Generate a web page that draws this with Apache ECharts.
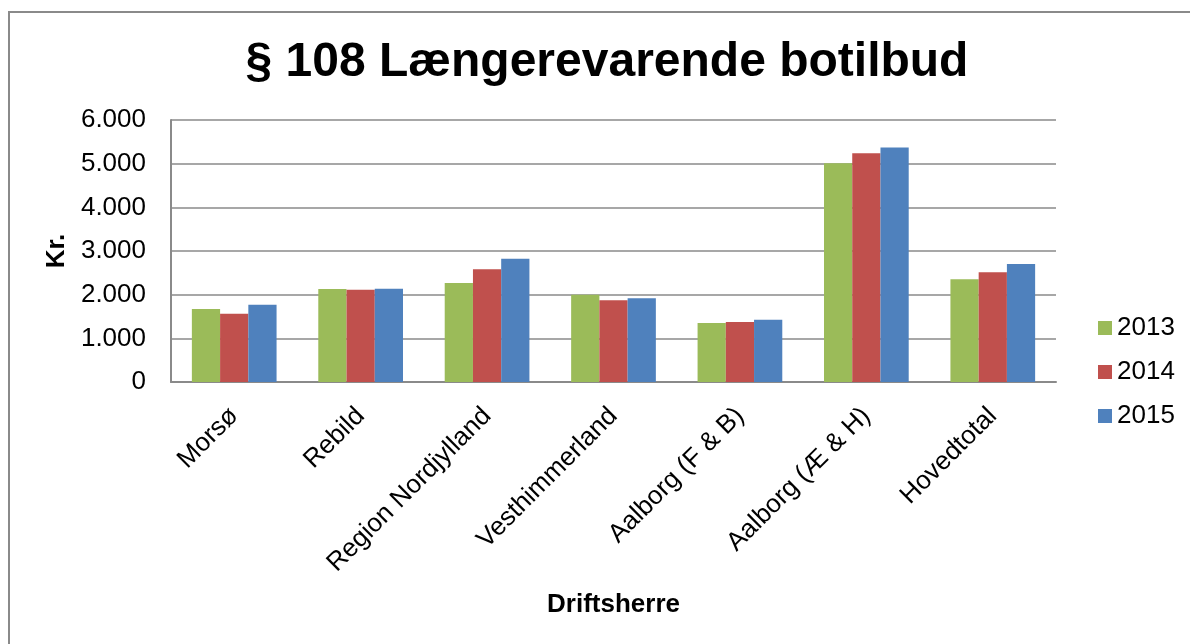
<!DOCTYPE html>
<html>
<head>
<meta charset="utf-8">
<script src="https://cdn.jsdelivr.net/npm/echarts@6/dist/echarts.min.js"></script>
<style>
  html, body { margin: 0; padding: 0; background: #fff; }
  #chart { width: 1190px; height: 644px; }
</style>
</head>
<body>
<div id="chart"></div>
<script>
// data
var categories = ['Morsø', 'Rebild', 'Region Nordjylland', 'Vesthimmerland', 'Aalborg (F & B)', 'Aalborg (Æ & H)', 'Hovedtotal'];
var v2013 = [1670, 2130, 2265, 2000, 1350, 5010, 2355];
var v2014 = [1565, 2110, 2580, 1870, 1375, 5240, 2515];
var v2015 = [1770, 2135, 2820, 1920, 1425, 5370, 2700];
var yTicks = [0, 1000, 2000, 3000, 4000, 5000, 6000];

var font = 'Liberation Sans, Arial, sans-serif';

function fmt(v) {
    return String(v).replace(/\B(?=(\d{3})+(?!\d))/g, '.');
}

var myChart = echarts.init(document.getElementById('chart'));

var option = {
    animation: false,
    textStyle: { fontFamily: font, color: '#000' },
    title: {
        text: '§ 108 Længerevarende botilbud',
        left: 602,
        top: 34,
        textAlign: 'center',
        textStyle: { fontFamily: font, fontSize: 48, fontWeight: 'bold', color: '#000' }
    },
    graphic: [{
        type: 'rect',
        shape: { x: 9, y: 12, width: 1220, height: 700 },
        style: { fill: null, stroke: '#8a8a8a', lineWidth: 2 },
        silent: true
    }],
    legend: {
        orient: 'vertical',
        left: 1093,
        top: 310,
        itemWidth: 14,
        itemHeight: 14,
        itemGap: 18,
        icon: 'rect',
        textStyle: { fontFamily: font, fontSize: 26, color: '#000' },
        data: ['2013', '2014', '2015']
    },
    grid: { left: 171, right: 134, top: 120, bottom: 262 },
    xAxis: {
        type: 'category',
        data: categories,
        name: 'Driftsherre',
        nameLocation: 'middle',
        nameGap: 210,
        nameTextStyle: { fontFamily: font, fontSize: 26, fontWeight: 'bold', color: '#000' },
        axisLine: { lineStyle: { color: '#8a8a8a', width: 2 } },
        axisTick: { show: false },
        axisLabel: { rotate: 45, fontSize: 26, margin: 30, color: '#000', fontFamily: font }
    },
    yAxis: {
        type: 'value',
        min: yTicks[0],
        max: yTicks[yTicks.length - 1],
        interval: 1000,
        name: 'Kr.',
        nameLocation: 'middle',
        nameRotate: 90,
        nameGap: 97,
        nameTextStyle: { fontFamily: font, fontSize: 26, fontWeight: 'bold', color: '#000' },
        axisLine: { show: true, lineStyle: { color: '#8a8a8a', width: 2 } },
        axisTick: { show: false },
        axisLabel: { fontSize: 26, margin: 25, color: '#000', fontFamily: font, formatter: fmt },
        splitLine: { lineStyle: { color: '#8a8a8a', width: 1.5 } }
    },
    series: [
        { name: '2013', type: 'bar', data: v2013, itemStyle: { color: '#9BBB59' }, barGap: '0%', barCategoryGap: '33%' },
        { name: '2014', type: 'bar', data: v2014, itemStyle: { color: '#C0504D' }, barGap: '0%', barCategoryGap: '33%' },
        { name: '2015', type: 'bar', data: v2015, itemStyle: { color: '#4F81BD' }, barGap: '0%', barCategoryGap: '33%' }
    ]
};

myChart.setOption(option);
window.onresize = function () {
    myChart.resize();
};
</script>
</body>
</html>
